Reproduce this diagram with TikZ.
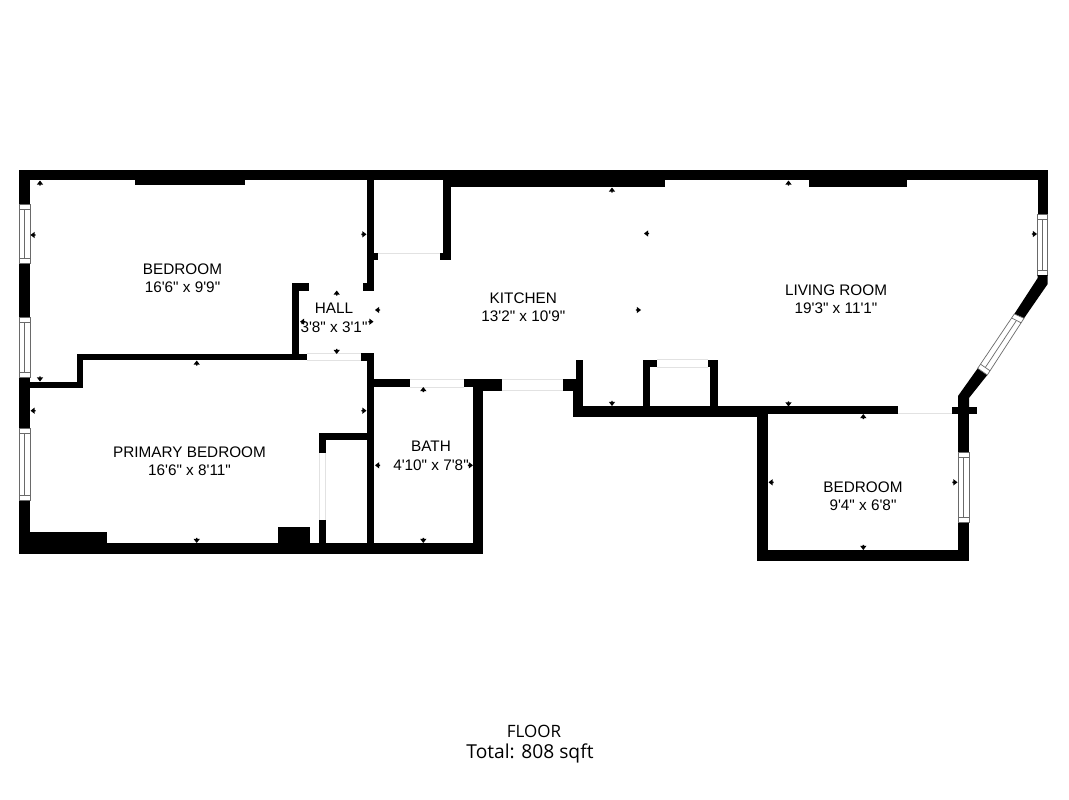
\documentclass[tikz,border=0pt]{standalone}
\usepackage{fontspec}
\newfontfamily\lab{Liberation Sans}
\newfontfamily\foot{Open Sans}
\definecolor{wingray}{HTML}{6A6A6A}
\definecolor{doorgray}{HTML}{E2E2E2}
\tikzset{
  wall/.style={fill=black,draw=none},
  winbox/.style={fill=white,draw=wingray,line width=0.7pt},
  winline/.style={draw=wingray,line width=0.7pt},
  doorline/.style={draw=doorgray,line width=0.8pt},
  roomlabel/.style={font=\lab\fontsize{15.3}{18.4}\selectfont,align=center,text=black,inner sep=0pt},
  footlabel/.style={font=\foot\fontsize{17}{21.5}\selectfont,text=black,inner sep=0pt},
  totlabel/.style={font=\foot\fontsize{19.2}{21.5}\selectfont,text=black,inner sep=0pt},
}
% wall rectangle: x1 y1 x2 y2
\newcommand{\wl}[4]{\fill[wall] (#1,#2) rectangle (#3,#4);}
% vertical window: x1 x2 y1 y2
\newcommand{\vwin}[4]{%
  \draw[winbox] (#1,#3) rectangle (#2,#4);
  \draw[winline] (#1,#3+5) -- (#2,#3+5);
  \draw[winline] (#1,#4-5) -- (#2,#4-5);
  \draw[winline] ({(#1+#2)/2},#3+5) -- ({(#1+#2)/2},#4-5);}
% arrow tip: x y rotation (0 = points up, 90 = points left, -90 = points right)
\newcommand{\tk}[3]{\fill[black,shift={(#1,#2)},rotate=#3] (0,0) -- (3.2,4.2) -- (0.7,4.2) -- (0.7,5.2) -- (-0.7,5.2) -- (-0.7,4.2) -- (-3.2,4.2) -- cycle;}
\begin{document}
\begin{tikzpicture}[x=1pt,y=-1pt]
\useasboundingbox (0,0) rectangle (1069,800);
\fill[white] (0,0) rectangle (1069,800);
% outer top wall and closets on it
\wl{19}{170}{1048}{180}
\wl{135}{180}{245}{185}
\wl{445}{180}{665}{187}
\wl{809}{180}{907}{187}
% left wall
\wl{19}{170}{30}{204}
\wl{19}{263}{30}{317}
\wl{19}{377}{30}{428}
\wl{19}{500}{30}{554}
\vwin{19}{30}{204}{263}
\vwin{19}{30}{317}{377}
\vwin{19}{30}{428}{500}
% bottom wall of the left block
\wl{19}{543}{483}{554}
\wl{30}{532}{107}{543}
\wl{278}{527}{310}{543}
% bedroom / primary bedroom partition
\wl{77}{353.5}{307}{360}
\wl{77}{353.5}{83}{388}
\wl{30}{382}{83}{388}
% hall
\wl{292}{283}{299}{354}
\wl{292}{283}{309}{291}
% bedroom / closet wall
\wl{367}{180}{374}{291}
\wl{363}{283}{374}{291}
\wl{374}{253}{378}{260}
% closet right wall
\wl{443}{170}{451}{260}
\wl{440}{253}{451}{260}
% central wall and primary closet
\wl{367}{353}{374}{554}
\wl{361}{353}{374}{361}
\wl{319}{432.7}{367}{440}
\wl{319}{432.7}{325.7}{453}
\wl{319}{520}{325.7}{543}
% bath
\wl{374}{379}{410}{387}
\wl{464}{379}{473}{387}
\wl{473}{379}{501.5}{391}
\wl{473}{379}{483}{554}
% kitchen south
\wl{563}{379}{576}{391}
\wl{576}{360}{583}{380}
\wl{573}{379}{583}{417}
\wl{573}{406}{757}{417}
\wl{642.7}{360}{650}{406}
\wl{642.7}{360}{656.7}{367}
\wl{710}{360}{717.7}{406}
\wl{708}{360}{717.7}{367}
% east bedroom
\wl{757}{406}{898}{414}
\wl{757}{406}{768}{561}
\wl{757}{550}{969}{561}
\wl{958}{396}{969}{452}
\wl{958}{522}{969}{561}
\wl{952}{406.7}{977}{414}
\vwin{958}{969}{452}{522}
% right wall
\wl{1037.7}{170}{1047.7}{214}
\vwin{1037.7}{1047.7}{214}{275}
% diagonal wall with window
\fill[wall] (1037.7,275) -- (1047.7,275) -- (1047.7,284) -- (1024,318.3) -- (1014.3,314) -- (1037.7,278) -- cycle;
\fill[wall] (977.7,368.3) -- (987.3,375) -- (969,398) -- (969,407) -- (958,407) -- (958,396) -- cycle;
\draw[winbox] (1014.3,314) -- (1024,318.3) -- (987.3,375) -- (977.7,368.3) -- cycle;
\draw[winline] (1011.6,318) -- (1021.3,322.9);
\draw[winline] (980.5,364.2) -- (990.1,370.8);
\draw[winline] (1016.4,320.5) -- (985.3,367.5);
% doors
\draw[doorline] (378,253) -- (440,253);
\draw[doorline] (307,353.5) -- (361,353.5);
\draw[doorline] (307,360) -- (361,360);
\draw[doorline] (410,379.5) -- (464,379.5);
\draw[doorline] (410,387) -- (464,387);
\draw[doorline] (501.5,379.5) -- (563,379.5);
\draw[doorline] (501.5,390.5) -- (563,390.5);
\draw[doorline] (657,359.5) -- (708,359.5);
\draw[doorline] (657,367.5) -- (708,367.5);
\draw[doorline] (898,413.5) -- (952,413.5);
\draw[doorline] (319,453) -- (319,520);
\draw[doorline] (325.7,453) -- (325.7,520);
% dimension tips
\tk{40}{180.5}{0}
\tk{30.5}{235}{90}
\tk{40}{381.5}{180}
\tk{30.5}{410.7}{90}
\tk{196.7}{360.5}{0}
\tk{196.7}{543}{180}
\tk{366.5}{234.3}{-90}
\tk{336.7}{290.5}{0}
\tk{336.7}{354}{180}
\tk{375}{310}{90}
\tk{373.5}{321.7}{-90}
\tk{300}{321.7}{90}
\tk{423.3}{387}{0}
\tk{366.5}{410.7}{-90}
\tk{375}{465.3}{90}
\tk{473}{465.3}{-90}
\tk{423.3}{543}{180}
\tk{612}{187.5}{0}
\tk{644}{233.5}{90}
\tk{641}{310}{-90}
\tk{612}{406}{180}
\tk{788.5}{406.5}{180}
\tk{788.5}{180.5}{0}
\tk{1037}{234}{-90}
\tk{863.3}{414}{0}
\tk{768.5}{482.3}{90}
\tk{957.5}{482.3}{-90}
\tk{863.3}{550}{180}
% labels
\node[roomlabel] (bed1) at (182.5,278) {BEDROOM\\16'6" x 9'9"};
\node[roomlabel] (prim) at (189.5,461.5) {PRIMARY BEDROOM\\16'6" x 8'11"};
\node[roomlabel] (hall) at (334,318) {HALL\\3'8" x 3'1"};
\node[roomlabel] (kit) at (523.3,307.5) {KITCHEN\\13'2" x 10'9"};
\node[roomlabel] (bath) at (431,456) {BATH\\4'10" x 7'8"};
\node[roomlabel] (liv) at (836,299.5) {LIVING ROOM\\19'3" x 11'1"};
\node[roomlabel] (bed2) at (863,496) {BEDROOM\\9'4" x 6'8"};
\node[footlabel] (fl) at (534,731.7) {FLOOR};
\node[totlabel] (tot) at (530,753) {Total: 808 sqft};
\end{tikzpicture}
\end{document}
